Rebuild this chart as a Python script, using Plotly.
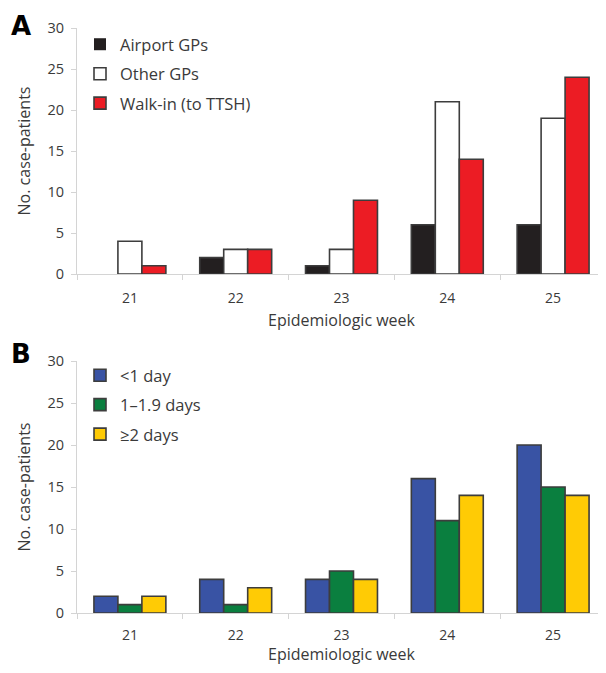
import plotly.graph_objects as go
from plotly.subplots import make_subplots

weeks = ["21", "22", "23", "24", "25"]

# Panel A: source of referral
airport_gps = [0, 2, 1, 6, 6]
other_gps = [4, 3, 3, 21, 19]
walk_in = [1, 3, 9, 14, 24]

# Panel B: interval
lt1_day = [2, 4, 4, 16, 20]
d1_19 = [1, 1, 5, 11, 15]
ge2_days = [2, 3, 4, 14, 14]

OFF = 8  # page body margin
W, H = 598, 657
ML, MT = 77 - OFF, 28 - OFF
MR = 0
MB = H - (613 - OFF)
PW = W - ML - MR
PH = H - MT - MB

def py(page_y):
    return (H - MB - (page_y - OFF)) / PH

def px_(page_x):
    return (page_x - OFF - ML) / PW

def dom(top_px, bot_px):
    return [py(bot_px), py(top_px)]

fig = make_subplots(rows=2, cols=1)

fontfam = "Open Sans"
txtcol = "#3a3a3a"

seriesA = [("Airport GPs", airport_gps, "#231f20"),
           ("Other GPs", other_gps, "#ffffff"),
           ("Walk-in (to TTSH)", walk_in, "#ec1c24")]
seriesB = [("<1 day", lt1_day, "#3953a4"),
           ("1\u20131.9 days", d1_19, "#0a7f3f"),
           ("\u22652 days", ge2_days, "#ffcb05")]

def edge(vals):
    return dict(color="#3d3d3d", width=[1.6 if v else 0 for v in vals])

for name, vals, col in seriesA:
    fig.add_trace(go.Bar(x=weeks, y=vals, name=name, marker=dict(color=col, line=edge(vals)),
                         legend="legend", legendgroup=name), row=1, col=1)
for name, vals, col in seriesB:
    fig.add_trace(go.Bar(x=weeks, y=vals, name=name, marker=dict(color=col, line=edge(vals)),
                         legend="legend2", legendgroup=name), row=2, col=1)

axcol = "#d4d4d4"
xax = dict(type="category", tickson="boundaries", ticks="outside", ticklen=5, tickcolor=axcol,
           showline=True, linecolor=axcol, linewidth=1, showgrid=False, zeroline=False, automargin=False,
           ticklabelstandoff=11,
           tickfont=dict(family=fontfam, size=14, color=txtcol),
           title=dict(text="Epidemiologic week", font=dict(family=fontfam, size=16, color=txtcol), standoff=9))
yax = dict(range=[0, 30], dtick=5, ticks="outside", ticklen=5, tickcolor=axcol,
           showline=True, linecolor=axcol, linewidth=1, showgrid=False, zeroline=False, automargin=False,
           ticklabelstandoff=4,
           tickfont=dict(family=fontfam, size=14.5, color=txtcol),
           title=dict(text="No. case-patients", font=dict(family=fontfam, size=16, color=txtcol), standoff=12))

fig.update_xaxes(**xax)
fig.update_yaxes(**yax)
fig.update_xaxes(ticklabelstandoff=9, title_standoff=4, row=2, col=1)
fig.update_layout(yaxis=dict(domain=dom(28, 274)), yaxis2=dict(domain=dom(361, 613)),
                  xaxis=dict(domain=[0, 1]), xaxis2=dict(domain=[0, 1]))

legstyle = dict(font=dict(family=fontfam, size=16.5, color=txtcol), bgcolor="rgba(0,0,0,0)",
                tracegroupgap=5, itemclick=False, xref="paper", yref="paper",
                xanchor="left", yanchor="top", traceorder="grouped")
fig.update_layout(
    legend=dict(x=px_(80), y=py(27), **legstyle),
    legend2=dict(x=px_(80), y=py(358), **legstyle),
)

fig.add_annotation(text="<b>A</b>", xref="paper", yref="paper", x=px_(21), y=py(26),
                   xanchor="center", yanchor="middle",
                   showarrow=False, font=dict(family="DejaVu Sans", size=26, color="#000"))
fig.add_annotation(text="<b>B</b>", xref="paper", yref="paper", x=px_(21), y=py(354),
                   xanchor="center", yanchor="middle",
                   showarrow=False, font=dict(family="DejaVu Sans", size=26, color="#000"))

fig.update_layout(width=W, height=H, margin=dict(l=ML, r=MR, t=MT, b=MB, autoexpand=False),
                  barmode="group", bargap=0.32, bargroupgap=0,
                  plot_bgcolor="white", paper_bgcolor="white", showlegend=True)

fig.write_html("out.html")
